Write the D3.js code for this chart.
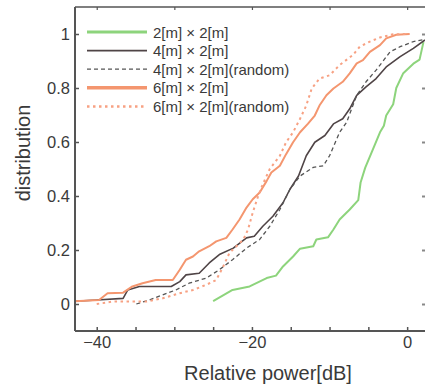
<!DOCTYPE html>
<html>
<head>
<meta charset="utf-8">
<script src="https://cdn.jsdelivr.net/npm/d3@7"></script>
<style>
  html, body { margin: 0; padding: 0; background: #fff; }
  svg { display: block; }
</style>
</head>
<body>
<svg id="chart" width="425" height="385"></svg>
<script>
// CDF curves: [relative power dB, distribution]
const green2x2 = [
  [-25.0, 0.011], [-22.5, 0.052], [-20.3, 0.065], [-18.1, 0.096], [-16.9, 0.105],
  [-16.0, 0.139], [-14.7, 0.176], [-13.8, 0.205], [-12.1, 0.214], [-11.7, 0.239],
  [-10.2, 0.247], [-9.5, 0.276], [-8.7, 0.313], [-7.4, 0.350], [-6.3, 0.385],
  [-6.0, 0.45], [-5.4, 0.505], [-4.4, 0.574], [-3.5, 0.636], [-3.0, 0.66],
  [-2.7, 0.698], [-1.8, 0.74], [-1.4, 0.80], [-0.5, 0.855], [0.8, 0.89],
  [1.6, 0.905], [2.1, 0.97]
];
const dark4x2 = [
  [-42.8, 0.01], [-40.0, 0.015], [-36.6, 0.021], [-36.0, 0.052], [-34.5, 0.065],
  [-30.4, 0.065], [-29.3, 0.083], [-28.5, 0.108], [-26.8, 0.114], [-25.5, 0.152],
  [-24.2, 0.183], [-22.4, 0.207], [-20.7, 0.245], [-19.7, 0.251], [-18.6, 0.288],
  [-17.3, 0.325], [-16.0, 0.375], [-15.1, 0.425], [-14.0, 0.474], [-13.0, 0.549],
  [-11.9, 0.599], [-10.6, 0.624], [-9.5, 0.667], [-8.3, 0.686], [-7.4, 0.723],
  [-6.5, 0.773], [-5.3, 0.804], [-4.0, 0.835], [-2.7, 0.878], [-0.9, 0.916],
  [0.8, 0.947], [2.3, 0.978]
];
const dark4x2Random = [
  [-34.9, 0.0], [-33.2, 0.015], [-31.5, 0.034], [-29.8, 0.052], [-28.1, 0.077],
  [-25.9, 0.096], [-24.2, 0.127], [-22.5, 0.164], [-20.7, 0.207], [-19.0, 0.239],
  [-17.7, 0.288], [-16.4, 0.35], [-15.1, 0.425], [-13.8, 0.474], [-12.1, 0.506],
  [-10.8, 0.512], [-10.0, 0.549], [-8.7, 0.636], [-7.8, 0.673], [-6.5, 0.773],
  [-5.3, 0.823], [-4.0, 0.866], [-2.2, 0.934], [-0.9, 0.953], [0.8, 0.972],
  [2.3, 0.98]
];
const orange6x2 = [
  [-42.8, 0.01], [-39.7, 0.015], [-38.6, 0.04], [-36.6, 0.042], [-35.4, 0.065],
  [-34.1, 0.077], [-32.4, 0.089], [-30.2, 0.089], [-29.3, 0.127], [-28.5, 0.164],
  [-27.6, 0.176], [-26.8, 0.195], [-25.5, 0.214], [-24.6, 0.232], [-23.3, 0.245],
  [-22.5, 0.276], [-21.6, 0.313], [-20.7, 0.357], [-19.9, 0.388], [-19.0, 0.413],
  [-18.1, 0.456], [-17.5, 0.487], [-16.4, 0.512], [-15.6, 0.555], [-14.7, 0.599],
  [-13.8, 0.636], [-12.8, 0.667], [-11.9, 0.698], [-11.3, 0.735], [-10.4, 0.773],
  [-9.5, 0.798], [-8.3, 0.823], [-7.4, 0.854], [-6.5, 0.891], [-5.7, 0.903],
  [-4.8, 0.934], [-3.5, 0.959], [-2.7, 0.984], [-1.4, 0.997], [0.3, 1.0]
];
const orange6x2Random = [
  [-40.0, 0.0], [-37.9, 0.009], [-33.6, 0.009], [-31.5, 0.021], [-29.3, 0.04],
  [-27.6, 0.052], [-25.9, 0.071], [-24.6, 0.089], [-23.7, 0.139], [-22.9, 0.189],
  [-22.0, 0.214], [-21.1, 0.239], [-20.5, 0.276], [-19.9, 0.338], [-19.2, 0.40],
  [-18.6, 0.444], [-17.7, 0.50], [-16.4, 0.549], [-15.6, 0.599], [-14.7, 0.636],
  [-13.8, 0.686], [-13.0, 0.735], [-12.3, 0.798], [-11.3, 0.835], [-10.0, 0.847],
  [-8.7, 0.885], [-7.0, 0.922], [-6.1, 0.953], [-4.8, 0.972], [-3.5, 0.987],
  [-1.8, 0.999], [0.3, 1.0]
];

const seriesNames = [
  '2[m] \u00d7 2[m]', '4[m] \u00d7 2[m]', '4[m] \u00d7 2[m](random)',
  '6[m] \u00d7 2[m]', '6[m] \u00d7 2[m](random)'
];
const xDomain = [-42.8, 2.3];
const yDomain = [-0.1, 1.1];
const xTickLabels = [-40, -20, 0];
const xMinorTicks = [-40, -35, -30, -25, -20, -15, -10, -5, 0];
const xTopTicks = [-40, -30, -20, -10, 0];
const yTickLabels = [0, 0.2, 0.4, 0.6, 0.8, 1];

const series = [
  { name: seriesNames[0], data: green2x2, color: '#8dd47c', width: 2, dash: null, legendWidth: 3 },
  { name: seriesNames[1], data: dark4x2, color: '#4f4446', width: 1.6, dash: null, legendWidth: 1.6 },
  { name: seriesNames[2], data: dark4x2Random, color: '#555', width: 1.3, dash: '4,3', legendWidth: 1.3 },
  { name: seriesNames[3], data: orange6x2, color: '#f4966f', width: 2, dash: null, legendWidth: 3.5 },
  { name: seriesNames[4], data: orange6x2Random, color: '#f7a183', width: 2, dash: '2.5,3.5', legendWidth: 2.5 }
];

const MARGIN = { top: 7, right: 0, bottom: 54, left: 75 };
const W = 425, H = 385;
const innerW = W - MARGIN.left - MARGIN.right;
const innerH = H - MARGIN.top - MARGIN.bottom;
const axisColor = '#555';
const textColor = '#3a3a3a';
const font = "'Liberation Sans', Arial, sans-serif";

const svg = d3.select('#chart');
const g = svg.append('g').attr('transform', `translate(${MARGIN.left},${MARGIN.top})`);

const x = d3.scaleLinear().domain(xDomain).range([0, innerW]);
const y = d3.scaleLinear().domain(yDomain).range([innerH, 0]);

svg.append('defs').append('clipPath').attr('id', 'plot-clip')
  .append('rect').attr('width', innerW).attr('height', innerH);

// Curves
const line = d3.line().x(d => x(d[0])).y(d => y(d[1]));
const plot = g.append('g').attr('clip-path', 'url(#plot-clip)');
series.forEach(s => {
  plot.append('path')
    .datum(s.data)
    .attr('fill', 'none')
    .attr('stroke', s.color)
    .attr('stroke-width', s.width)
    .attr('stroke-dasharray', s.dash)
    .attr('stroke-linejoin', 'round')
    .attr('d', line);
});

// Frame lines (left, bottom, top; right edge falls outside the picture)
g.append('line').attr('x1', 0).attr('x2', 0).attr('y1', 0).attr('y2', innerH)
  .attr('stroke', axisColor).attr('stroke-width', 2);
g.append('line').attr('x1', 0).attr('x2', innerW).attr('y1', innerH).attr('y2', innerH)
  .attr('stroke', axisColor).attr('stroke-width', 2);
g.append('line').attr('x1', 0).attr('x2', innerW).attr('y1', 0).attr('y2', 0)
  .attr('stroke', axisColor).attr('stroke-width', 1.5);

// Bottom ticks (inward)
g.append('g')
  .attr('transform', `translate(0,${innerH})`)
  .call(d3.axisTop(x).tickValues(xMinorTicks).tickSize(4).tickFormat(''))
  .call(sel => sel.select('.domain').remove())
  .call(sel => sel.selectAll('.tick line').attr('stroke', axisColor).attr('stroke-width', 1.5));

// Bottom labels
g.append('g')
  .attr('transform', `translate(0,${innerH})`)
  .call(d3.axisBottom(x).tickValues(xTickLabels).tickSize(0).tickPadding(5))
  .call(sel => sel.select('.domain').remove())
  .call(sel => sel.selectAll('.tick text')
    .attr('fill', textColor).attr('font-family', font).attr('font-size', '16.5px'));

// Top ticks (inward)
g.append('g')
  .call(d3.axisBottom(x).tickValues(xTopTicks).tickSize(3).tickFormat(''))
  .call(sel => sel.select('.domain').remove())
  .call(sel => sel.selectAll('.tick line').attr('stroke', axisColor).attr('stroke-width', 1.2));

// Left axis
g.append('g')
  .call(d3.axisRight(y).tickValues(yTickLabels).tickSize(4).tickFormat(''))
  .call(sel => sel.select('.domain').remove())
  .call(sel => sel.selectAll('.tick line').attr('stroke', axisColor).attr('stroke-width', 1.5));
g.append('g')
  .call(d3.axisLeft(y).tickValues(yTickLabels).tickSize(0).tickPadding(5).tickFormat(d3.format('')))
  .call(sel => sel.select('.domain').remove())
  .call(sel => sel.selectAll('.tick text')
    .attr('fill', textColor).attr('font-family', font).attr('font-size', '16.5px'));

// Right axis ticks (inward), at the picture edge
g.append('g')
  .attr('transform', `translate(${innerW},0)`)
  .call(d3.axisLeft(y).tickValues(yTickLabels).tickSize(3).tickFormat(''))
  .call(sel => sel.select('.domain').remove())
  .call(sel => sel.selectAll('.tick line').attr('stroke', '#888').attr('stroke-width', 2));

// Axis titles
svg.append('text')
  .attr('x', 268).attr('y', 380)
  .attr('text-anchor', 'middle')
  .attr('fill', textColor).attr('font-family', font).attr('font-size', '20px')
  .text('Relative power[dB]');
svg.append('text')
  .attr('transform', 'translate(30,153) rotate(-90)')
  .attr('text-anchor', 'middle')
  .attr('fill', textColor).attr('font-family', font).attr('font-size', '20px')
  .text('distribution');

// Legend
const legend = svg.append('g').attr('transform', 'translate(87,32)');
series.forEach((s, i) => {
  const row = legend.append('g').attr('transform', `translate(0,${i * 18.6})`);
  row.append('line')
    .attr('x1', 0).attr('x2', 60).attr('y1', 0).attr('y2', 0)
    .attr('stroke', s.color)
    .attr('stroke-width', s.legendWidth)
    .attr('stroke-dasharray', s.dash);
  row.append('text')
    .attr('x', 66).attr('y', 5.5)
    .attr('fill', textColor).attr('font-family', font).attr('font-size', '15px')
    .text(s.name);
});
</script>
</body>
</html>
